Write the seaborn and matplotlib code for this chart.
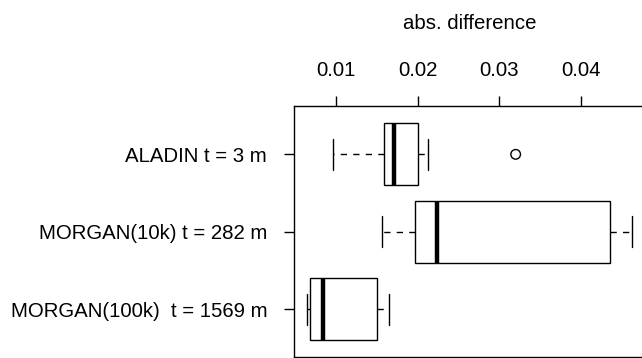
import numpy as np
import pandas as pd
import matplotlib
matplotlib.use("Agg")
import matplotlib.pyplot as plt
import seaborn as sns

# ---- data (five-number summaries) ----
methods = ["ALADIN t = 3 m", "MORGAN(10k) t = 282 m", "MORGAN(100k)  t = 1569 m"]
whisker_low = [0.00956, 0.01556, 0.00638]
q1 = [0.0158, 0.01967, 0.00682]
median = [0.0171, 0.02236, 0.00841]
q3 = [0.0200, 0.04362, 0.01498]
whisker_high = [0.0212, 0.04623, 0.01645]
outlier_method = ["ALADIN t = 3 m"]
outlier_value = [0.0320]
tick_values = [0.01, 0.02, 0.03, 0.04]
tick_labels = ["0.01", "0.02", "0.03", "0.04"]

rows = []
for i, m in enumerate(methods):
    for v in (whisker_low[i], q1[i], median[i], q3[i], whisker_high[i]):
        rows.append({"method": m, "value": v})
df = pd.DataFrame(rows)

sns.set_theme(style="white")
plt.rcParams["font.family"] = ["Liberation Sans", "DejaVu Sans"]
plt.rcParams["font.size"] = 14.7
plt.rcParams["text.color"] = "black"
plt.rcParams["axes.labelcolor"] = "black"

fig = plt.figure(figsize=(6.42, 3.58), dpi=100)
ax = fig.add_axes([0.4572, 0.0017, 0.548, 0.7014])

sns.boxplot(
    data=df, x="value", y="method", order=methods, orient="h",
    whis=(0, 100), width=0.8, color="white", linecolor="black",
    linewidth=1.0, showfliers=False, saturation=1,
    boxprops=dict(facecolor="white", edgecolor="black"),
    whiskerprops=dict(linestyle=(0, (4.5, 4.5)), color="black"),
    capprops=dict(color="black", linestyle="-"),
    medianprops=dict(color="black", linewidth=3.2),
    ax=ax,
)

sns.scatterplot(
    x=outlier_value, y=[methods.index(m) for m in outlier_method],
    marker="o", s=48, facecolor="none", edgecolor="black", linewidth=1.0,
    ax=ax, legend=False,
)

ax.set_xlim(0.00476, 0.0479)
ax.set_ylim(2.62, -0.62)
ax.set_yticks(range(len(methods)))
ax.set_yticklabels(methods, fontsize=14.7)

ax.xaxis.tick_top()
ax.xaxis.set_label_position("top")
ax.set_xticks(tick_values)
ax.set_xticklabels(tick_labels, fontsize=14.7)
ax.set_xlabel("abs. difference", fontsize=14.7, labelpad=23, color="black")
ax.set_ylabel("")

ax.tick_params(axis="both", direction="out", length=7, width=1.0, color="black",
               labelcolor="black")
ax.tick_params(axis="x", pad=12, top=True, bottom=False)
ax.tick_params(axis="y", pad=12, left=True)
for s in ax.spines.values():
    s.set_visible(True)
    s.set_color("black")
    s.set_linewidth(1.0)

fig.savefig("out.png", dpi=100)
